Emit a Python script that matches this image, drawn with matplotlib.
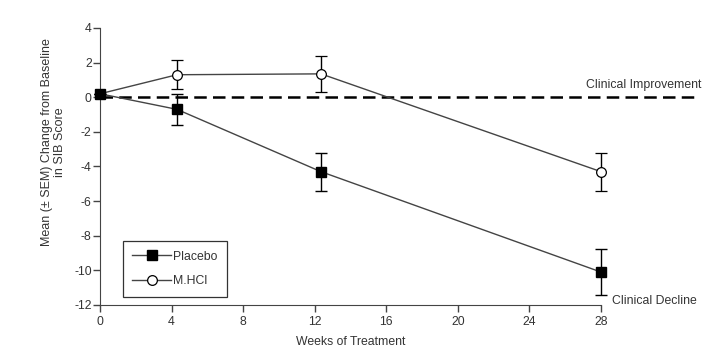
import matplotlib
matplotlib.use("Agg", force=True)
import matplotlib.pyplot as plt
from matplotlib.lines import Line2D

plt.rcParams["font.family"] = ["Liberation Sans", "DejaVu Sans"]
plt.rcParams["axes.unicode_minus"] = False

# data
weeks_placebo = [0, 4.3, 12.35, 28]
mean_placebo = [0.2, -0.7, -4.3, -10.1]
sem_placebo = [0.0, 0.9, 1.1, 1.35]

weeks_mhcl = [0, 4.3, 12.35, 28]
mean_mhcl = [0.2, 1.3, 1.35, -4.3]
sem_mhcl = [0.0, 0.85, 1.05, 1.1]

x_ticks = [0, 4, 8, 12, 16, 20, 24, 28]
y_ticks = [-12, -10, -8, -6, -4, -2, 0, 2, 4]

fig = plt.figure(figsize=(7.13, 3.57), dpi=100)
ax = fig.add_axes([0.1403, 0.1457, 0.7027, 0.7759])

txt = "#333333"
line_c = "#444444"
fs = 8.8

ax.plot([0, 33.5], [0, 0], color="black", lw=1.8, ls=(0, (5, 2.5)),
        clip_on=False, zorder=1)

ax.errorbar(weeks_mhcl, mean_mhcl, yerr=sem_mhcl, color=line_c,
            ecolor="black", elinewidth=1.0, capsize=4, capthick=1.0,
            lw=1.0, marker="o", ms=7, mfc="white", mec="black", mew=0.9,
            zorder=3, clip_on=False)
ax.errorbar(weeks_placebo, mean_placebo, yerr=sem_placebo, color=line_c,
            ecolor="black", elinewidth=1.0, capsize=4, capthick=1.0,
            lw=1.0, marker="s", ms=7.5, mfc="black", mec="black",
            zorder=4, clip_on=False)

ax.set_xlim(0, 28)
ax.set_ylim(-12, 4)
ax.set_xticks(x_ticks)
ax.set_yticks(y_ticks)
ax.spines["top"].set_visible(False)
ax.spines["right"].set_visible(False)
ax.spines["left"].set_color(line_c)
ax.spines["bottom"].set_color(line_c)
ax.tick_params(direction="out", length=5, width=1, colors=line_c,
               labelsize=fs, labelcolor=txt)
ax.tick_params(axis="y", pad=1)
ax.tick_params(axis="x", pad=3)

ax.set_xlabel("Weeks of Treatment", fontsize=fs, color=txt, labelpad=6)
ax.set_ylabel("Mean (\u00b1 SEM) Change from Baseline\nin SIB Score",
              fontsize=9, color=txt, linespacing=1.1)
ax.yaxis.set_label_coords(-0.068, 0.588)

ax.text(33.6, 0.35, "Clinical Improvement", fontsize=fs, color=txt,
        ha="right", va="bottom", clip_on=False)
ax.text(28.6, -11.75, "Clinical Decline", fontsize=fs, color=txt,
        ha="left", va="center", clip_on=False)

handles = [
    Line2D([], [], color=line_c, lw=1.0, marker="s", ms=7.5,
           mfc="black", mec="black"),
    Line2D([], [], color=line_c, lw=1.0, marker="o", ms=7,
           mfc="white", mec="black", mew=0.9),
]
leg = ax.legend(handles, ["Placebo", "M.HCl"], loc="lower left",
                bbox_to_anchor=(0.045, 0.03), fontsize=fs, frameon=True,
                fancybox=False, edgecolor="black", handlelength=3.2,
                borderpad=0.8, labelspacing=1.0, handletextpad=0.1,
                borderaxespad=0)
leg.get_frame().set_linewidth(0.9)
for t in leg.get_texts():
    t.set_color(txt)

fig.savefig("out.png", dpi=100)
